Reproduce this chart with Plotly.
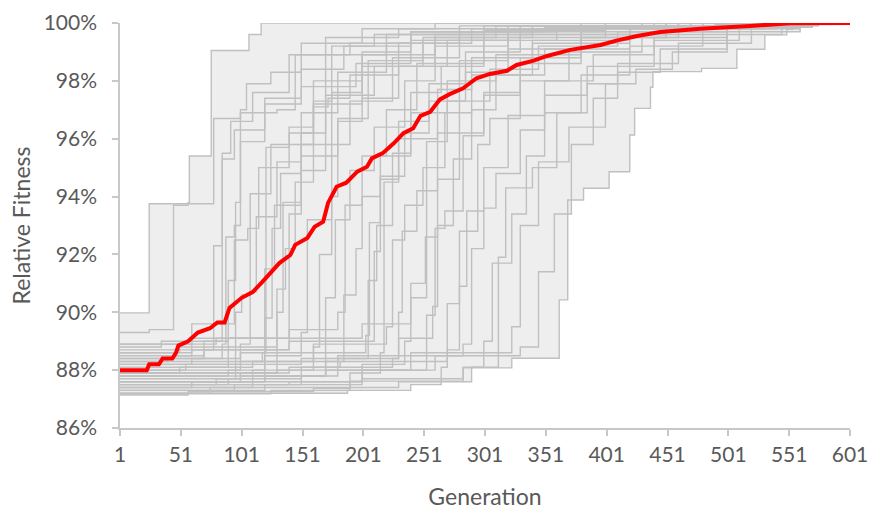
import numpy as np
import plotly.graph_objects as go

# ---------------- data ----------------
x_ticks = [1, 51, 101, 151, 201, 251, 301, 351, 401, 451, 501, 551, 601]
y_ticks = [86, 88, 90, 92, 94, 96, 98, 100]

# individual runs: (generation, relative fitness %) at each improvement
run01 = [(1, 89.98), (25, 93.75), (57, 93.8), (58, 95.4), (76, 99.05), (107, 99.6), (117, 100)]
run02 = [(1, 89.3), (25, 89.4), (45, 93.7), (57, 93.75), (78, 96.7), (100, 97.0), (105, 97.9), (125, 98.3), (150, 99.3), (200, 99.8), (260, 100)]
run03 = [(1, 88.6), (60, 88.7), (78, 92.3), (85, 95.5), (92, 96.6), (110, 97.6), (140, 98.9), (170, 99.5), (230, 99.8), (350, 99.9), (470, 100)]
run04 = [(1, 88.4), (70, 89.0), (85, 95.3), (95, 96.3), (120, 97.2), (150, 97.8), (170, 98.9), (220, 99.6), (300, 99.8), (420, 99.9), (520, 100)]
run05 = [(1, 87.9), (50, 88.1), (90, 91.1), (96, 93.8), (100, 96.9), (130, 97.0), (145, 98.9), (190, 99.3), (240, 99.7), (360, 99.85), (505, 100)]
run06 = [(1, 87.5), (80, 87.7), (96, 90.0), (101, 90.6), (108, 94.1), (125, 95.8), (160, 97.3), (175, 99.2), (210, 99.6), (300, 99.75), (400, 99.9), (540, 100)]
run07 = [(1, 88.3), (40, 88.5), (60, 89.6), (95, 92.5), (106, 92.9), (115, 95.0), (140, 96.4), (160, 97.2), (200, 98.5), (250, 99.4), (320, 99.9), (470, 100)]
run08 = [(1, 87.2), (75, 87.4), (110, 88.0), (120, 91.5), (128, 93.7), (150, 95.4), (180, 96.7), (205, 98.7), (250, 99.5), (310, 99.9), (430, 100)]
run09 = [(1, 88.0), (100, 88.3), (118, 88.6), (121, 95.7), (140, 96.2), (160, 98.0), (200, 99.0), (240, 99.7), (350, 99.85), (460, 100)]
run10 = [(1, 87.7), (100, 87.9), (130, 90.8), (137, 92.2), (145, 94.5), (160, 97.1), (172, 97.4), (190, 98.2), (230, 99.3), (290, 99.8), (380, 99.9), (560, 100)]
run11 = [(1, 88.8), (35, 89.0), (90, 89.1), (140, 93.4), (150, 94.9), (170, 97.5), (210, 98.5), (260, 99.5), (340, 99.8), (480, 100)]
run12 = [(1, 87.4), (60, 87.6), (120, 88.5), (150, 89.3), (155, 93.2), (175, 95.8), (190, 97.3), (225, 98.8), (280, 99.7), (400, 99.9), (530, 100)]
run13 = [(1, 88.1), (110, 88.3), (160, 88.8), (165, 92.0), (175, 94.0), (180, 96.6), (200, 97.4), (230, 98.5), (270, 99.4), (330, 99.9), (450, 100)]
run14 = [(1, 87.3), (95, 87.5), (150, 87.8), (170, 90.5), (178, 93.2), (190, 94.9), (210, 96.4), (235, 98.0), (260, 99.2), (320, 99.8), (380, 100)]
run15 = [(1, 88.5), (70, 88.7), (140, 89.4), (180, 90.0), (186, 93.7), (200, 95.4), (220, 97.0), (245, 98.6), (300, 99.6), (380, 99.8), (490, 99.95), (560, 100)]
run16 = [(1, 87.6), (120, 87.8), (180, 88.4), (205, 91.1), (212, 93.0), (225, 95.5), (240, 97.6), (265, 98.5), (300, 99.4), (360, 99.9), (520, 100)]
run17 = [(1, 87.18), (125, 87.3), (190, 87.9), (215, 88.6), (218, 94.5), (230, 96.6), (255, 97.3), (280, 98.7), (320, 99.5), (400, 99.9), (540, 100)]
run18 = [(1, 87.8), (90, 88.0), (160, 88.9), (220, 89.5), (225, 92.5), (235, 93.7), (250, 95.0), (268, 96.9), (290, 98.2), (340, 99.3), (420, 99.9), (555, 100)]
run19 = [(1, 87.5), (140, 87.6), (200, 88.2), (235, 89.0), (240, 91.0), (252, 92.6), (262, 94.6), (280, 96.2), (300, 97.5), (330, 98.8), (380, 99.6), (450, 100)]
run20 = [(1, 88.2), (150, 88.4), (230, 89.1), (258, 90.2), (262, 93.0), (275, 95.3), (290, 97.0), (310, 98.2), (350, 99.1), (420, 99.7), (500, 99.9), (565, 100)]
run21 = [(1, 87.2), (188, 87.3), (240, 87.5), (265, 88.1), (270, 90.3), (280, 92.8), (295, 95.8), (305, 96.7), (330, 98.0), (370, 99.0), (430, 99.6), (500, 100)]
run22 = [(1, 87.9), (130, 88.0), (240, 88.6), (283, 88.9), (290, 92.2), (300, 93.6), (310, 94.8), (330, 96.3), (350, 97.5), (385, 98.5), (440, 99.4), (510, 99.9), (570, 100)]
run23 = [(1, 87.6), (200, 87.7), (283, 88.1), (300, 89.0), (307, 91.7), (323, 93.4), (335, 95.4), (350, 96.9), (380, 98.2), (420, 99.2), (480, 99.8), (540, 99.9), (575, 100)]
run24 = [(1, 87.14), (57, 87.26), (160, 87.37), (190, 87.62), (283, 88.08), (323, 88.41), (362, 90.43), (369, 93.88), (382, 94.29), (403, 94.86), (420, 96.13), (424, 97.05), (437, 97.78), (439, 98.32), (479, 98.43), (508, 99.09), (531, 99.59), (549, 99.78), (554, 100)]
run25 = [(1, 88.3), (180, 88.5), (283, 88.6), (323, 89.5), (330, 93.0), (345, 95.2), (370, 96.4), (400, 97.9), (425, 98.4), (455, 99.0), (500, 99.6), (545, 99.95), (575, 100)]
run26 = [(1, 87.4), (230, 87.6), (290, 88.1), (312, 91.9), (318, 94.3), (340, 95.0), (360, 96.9), (385, 97.9), (410, 98.6), (460, 99.3), (520, 99.8), (560, 100)]
run27 = [(1, 88.9), (80, 89.1), (200, 89.6), (240, 90.5), (253, 95.9), (270, 97.3), (285, 98.3), (320, 99.1), (380, 99.7), (450, 100)]
run28 = [(1, 88.7), (140, 89.0), (210, 92.1), (215, 94.7), (235, 96.2), (255, 97.9), (285, 99.0), (330, 99.6), (420, 99.8), (500, 100)]
run29 = [(1, 87.8), (170, 88.0), (253, 89.9), (260, 92.9), (268, 93.5), (283, 96.1), (300, 97.6), (330, 98.6), (380, 99.5), (450, 99.8), (530, 100)]
run30 = [(1, 88.0), (55, 88.2), (100, 88.9), (108, 90.7), (113, 93.3), (130, 95.2), (150, 96.9), (180, 98.3), (220, 99.3), (280, 99.9), (400, 100)]
run31 = [(1, 87.3), (120, 87.5), (200, 88.0), (260, 88.5), (330, 88.8), (345, 91.4), (358, 93.4), (372, 95.8), (390, 97.4), (410, 98.3), (445, 99.1), (500, 99.7), (560, 100)]
run32 = [(1, 88.6), (50, 88.8), (130, 90.0), (135, 93.8), (150, 96.2), (170, 97.8), (195, 98.6), (240, 99.4), (300, 99.9), (440, 100)]
run33 = [(1, 88.2), (60, 88.4), (85, 88.9), (88, 92.6), (95, 93.0), (100, 95.9), (120, 97.4), (150, 98.4), (185, 99.2), (240, 99.7), (330, 99.9), (480, 100)]
run34 = [(1, 87.5), (90, 87.7), (150, 88.1), (182, 88.3), (185, 90.6), (195, 92.2), (200, 94.0), (215, 95.4), (240, 96.9), (270, 98.0), (310, 98.9), (380, 99.5), (460, 99.85), (550, 100)]
run35 = [(1, 88.4), (100, 88.6), (203, 89.2), (206, 93.1), (215, 94.6), (230, 96.0), (262, 97.7), (290, 98.8), (340, 99.4), (420, 99.8), (520, 100)]
run36 = [(1, 87.9), (140, 88.1), (225, 88.4), (230, 90.0), (233, 92.8), (245, 94.2), (262, 96.2), (280, 97.3), (305, 98.4), (345, 99.2), (410, 99.7), (500, 99.9), (570, 100)]
run37 = [(1, 87.6), (100, 87.8), (170, 88.3), (270, 88.7), (280, 90.9), (286, 93.5), (300, 95.0), (320, 96.8), (350, 98.0), (390, 98.9), (440, 99.5), (500, 99.85), (570, 100)]
run38 = [(1, 88.9), (60, 89.1), (120, 89.8), (126, 92.9), (133, 94.8), (150, 95.8), (175, 97.6), (200, 98.9), (260, 99.6), (340, 99.9), (460, 100)]

runs = [run01, run02, run03, run04, run05, run06, run07, run08, run09, run10,
        run11, run12, run13, run14, run15, run16, run17, run18, run19, run20,
        run21, run22, run23, run24, run25, run26, run27, run28, run29, run30,
        run31, run32, run33, run34, run35, run36, run37, run38]

# average of all runs (red line)
mean_gen = [1, 23, 25, 33, 36, 44, 47, 49, 57, 65, 75, 81, 87, 91, 101, 110, 118, 127, 132, 141,
            145, 155, 161, 168, 172, 179, 187, 196, 204, 208, 217, 226, 234, 242, 248, 256, 264,
            272, 283, 294, 305, 319, 327, 341, 352, 371, 396, 409, 426, 445, 478, 519, 552, 601]
mean_fit = [88.0, 88.0, 88.2, 88.2, 88.4, 88.4, 88.6, 88.85, 89.0, 89.3, 89.45, 89.65, 89.65, 90.15,
            90.5, 90.7, 91.05, 91.45, 91.7, 91.98, 92.33, 92.57, 92.96, 93.13, 93.78, 94.34, 94.48,
            94.86, 95.03, 95.32, 95.5, 95.84, 96.19, 96.36, 96.79, 96.93, 97.36, 97.54, 97.74, 98.09,
            98.24, 98.35, 98.55, 98.7, 98.86, 99.07, 99.24, 99.39, 99.55, 99.69, 99.8, 99.9, 99.99, 100.0]

LAST_GEN = 601

# ---------------- figure ----------------
gens = np.arange(1, LAST_GEN + 1)


def step_values(run):
    g = np.array([p[0] for p in run])
    v = np.array([p[1] for p in run])
    idx = np.searchsorted(g, gens, side="right") - 1
    return v[idx]


all_vals = np.vstack([step_values(r) for r in runs])
env_max = all_vals.max(axis=0)
env_min = all_vals.min(axis=0)

fig = go.Figure()

fig.add_trace(go.Scatter(x=gens, y=env_max, mode="lines", line=dict(width=0, shape="hv"),
                         hoverinfo="skip", showlegend=False))
fig.add_trace(go.Scatter(x=gens, y=env_min, mode="lines", line=dict(width=0, shape="hv"),
                         fill="tonexty", fillcolor="rgb(238,238,238)",
                         hoverinfo="skip", showlegend=False))

for r in runs:
    xs = [p[0] for p in r] + [LAST_GEN]
    ys = [p[1] for p in r] + [r[-1][1]]
    fig.add_trace(go.Scatter(x=xs, y=ys, mode="lines",
                             line=dict(color="#c0c0c0", width=1.4, shape="hv"),
                             showlegend=False))

fig.add_trace(go.Scatter(x=mean_gen, y=mean_fit, mode="lines",
                         line=dict(color="#ff0000", width=4),
                         showlegend=False))

font_family = "Lato, 'Open Sans', sans-serif"
fig.update_layout(
    width=869, height=510,
    margin=dict(l=120, r=19, t=23, b=82),
    paper_bgcolor="white", plot_bgcolor="white",
    font=dict(family=font_family, color="#595959", size=21),
    showlegend=False,
)
fig.update_xaxes(
    range=[1, 601], tickvals=x_ticks, ticktext=[str(t) for t in x_ticks],
    automargin=False,
    showgrid=False, zeroline=False, showline=True, linecolor="#c8c8c8", linewidth=1.5,
    ticks="outside", ticklen=6, tickcolor="#c8c8c8", tickwidth=1.5,
    ticklabelstandoff=1,
    tickfont=dict(size=21, color="#595959"),
    title=dict(text="Generation", font=dict(size=23, color="#595959"), standoff=25),
)
fig.update_yaxes(
    range=[86, 100], tickvals=y_ticks, ticktext=[f"{t}%" for t in y_ticks],
    automargin=False,
    showgrid=False, zeroline=False, showline=True, linecolor="#c8c8c8", linewidth=1.5,
    ticks="outside", ticklen=6, tickcolor="#c8c8c8", tickwidth=1.5,
    ticklabelstandoff=11,
    tickfont=dict(size=21, color="#595959"),
    title=dict(text="Relative Fitness", font=dict(size=23, color="#595959"), standoff=7),
)

fig.write_html("out.html", config={"displayModeBar": False},
               post_script="document.body.style.margin='0';document.body.style.overflow='hidden';")
